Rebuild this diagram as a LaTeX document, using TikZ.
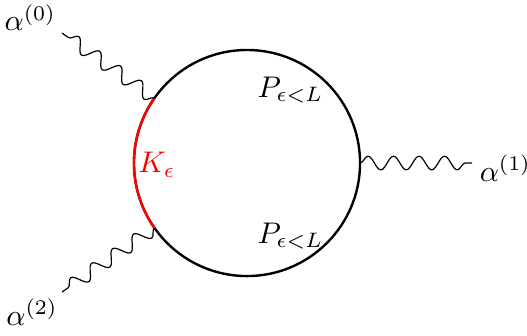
\documentclass[tikz,border=0pt]{standalone}
\usetikzlibrary{decorations.pathmorphing}

\tikzset{
  photon/.style={decorate, decoration={snake, segment length=0.3cm, amplitude=0.08cm}},
  loopline/.style={thick},
}

\begin{document}
\begin{tikzpicture}[>=stealth]
  \useasboundingbox (-2.906,-2.024) rectangle (3.294,1.918);
  % 1. loop
  \draw[loopline] (0,0) circle (1.33);
  \draw[loopline, red] (145:1.33) arc (145:215:1.33);

  % 2. vertices on the loop and free ends
  \coordinate (v0) at (145:1.33);
  \coordinate (v1) at (0:1.33);
  \coordinate (v2) at (215:1.33);
  \coordinate (e0) at (-2.176,1.529);
  \coordinate (e1) at (2.647,0);
  \coordinate (e2) at (-2.176,-1.518);

  % 3. external lines
  \draw[photon] (v0) -- (e0);
  \draw[photon] (v1) -- (e1);
  \draw[photon] (v2) -- (e2);

  % 4. labels
  \node (a0) at (-2.55,1.71) {$\alpha^{(0)}$};
  \node (a1) at (3.04,-0.06) {$\alpha^{(1)}$};
  \node (a2) at (-2.53,-1.75) {$\alpha^{(2)}$};
  \node[red] (K) at (-1.06,-0.02) {$K_\epsilon$};
  \node (Pt) at (0.51,0.86) {$P_{\epsilon<L}$};
  \node (Pb) at (0.51,-0.86) {$P_{\epsilon<L}$};
\end{tikzpicture}
\end{document}
